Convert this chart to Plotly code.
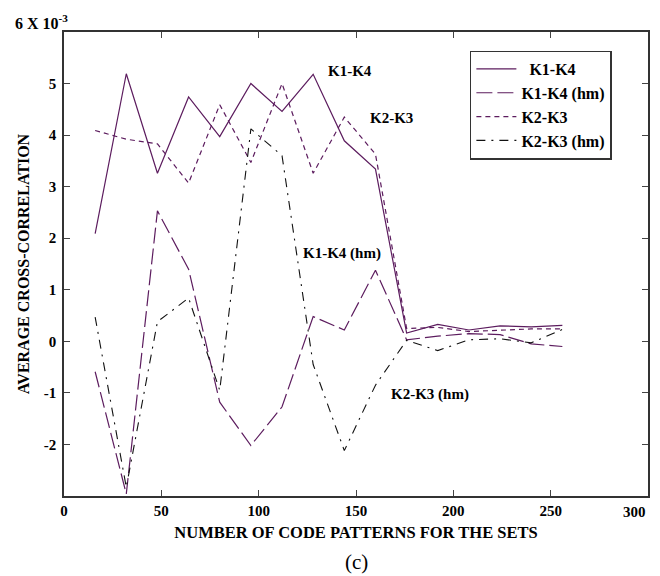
import plotly.graph_objects as go

# Number of code patterns
patterns = [16, 32, 48, 64, 80, 96, 112, 128, 144, 160, 176, 192, 208, 224, 240, 256]

# Average cross-correlation values (x 10^-3)
k1k4 = [2.09, 5.19, 3.26, 4.74, 3.97, 5.00, 4.46, 5.18, 3.89, 3.34, 0.16, 0.33, 0.22, 0.30, 0.28, 0.31]
k1k4_hm = [-0.59, -2.96, 2.53, 1.40, -1.18, -2.02, -1.27, 0.48, 0.22, 1.38, 0.03, 0.10, 0.15, 0.13, -0.05, -0.10]
k2k3 = [4.09, 3.92, 3.83, 3.07, 4.59, 3.47, 5.00, 3.26, 4.35, 3.63, 0.25, 0.27, 0.19, 0.22, 0.24, 0.24]
k2k3_hm = [0.47, -2.83, 0.38, 0.84, -0.95, 4.12, 3.60, -0.45, -2.12, -0.85, 0.02, -0.18, 0.03, 0.05, -0.03, 0.23]

ytick_vals = [-2, -1, 0, 1, 2, 3, 4, 5]
ytick_text = ["-2", "-1", "0", "1", "2", "3", "4", "5"]
xtick_vals = [0, 50, 100, 150, 200, 250, 300]
xtick_text = ["0", "50", "100", "150", "200", "250", ""]

PURPLE = "#5c1c5e"
BLACK = "#111111"
FONT = "Liberation Serif"

fig = go.Figure()
fig.add_trace(go.Scatter(x=patterns, y=k1k4, mode="lines", name="\u2002K1-K4",
                         line=dict(color=PURPLE, width=1.2, dash="solid")))
fig.add_trace(go.Scatter(x=patterns, y=k1k4_hm, mode="lines", name="K1-K4 (hm)",
                         line=dict(color=PURPLE, width=1.2, dash="16px,5px")))
fig.add_trace(go.Scatter(x=patterns, y=k2k3, mode="lines", name="K2-K3",
                         line=dict(color=PURPLE, width=1.2, dash="5px,4px")))
fig.add_trace(go.Scatter(x=patterns, y=k2k3_hm, mode="lines", name="K2-K3 (hm)",
                         line=dict(color=BLACK, width=1.1, dash="9px,6px,2px,6px")))

label_font = dict(family=FONT, size=15, color="black")
annotations = [
    dict(x=-0.087, y=1, xref="paper", yref="paper", xanchor="left", yanchor="bottom",
         yshift=-2, showarrow=False,
         text="<b>6 X 10<sup>-3</sup></b>", font=dict(family=FONT, size=16, color="black")),
    dict(x=300, y=0, xref="x", yref="paper", xanchor="right", yanchor="top",
         yshift=-6, showarrow=False, text="<b>300</b>",
         font=dict(family=FONT, size=15, color="black")),
    dict(x=147, y=5.25, text="<b>K1-K4</b>", showarrow=False, font=label_font),
    dict(x=168, y=4.33, text="<b>K2-K3</b>", showarrow=False, font=label_font),
    dict(x=143, y=1.70, text="<b>K1-K4 (hm)</b>", showarrow=False, font=label_font),
    dict(x=188, y=-1.04, text="<b>K2-K3 (hm)</b>", showarrow=False, font=label_font),
    dict(x=0.5, y=-0.142, xref="paper", yref="paper", xanchor="center", yanchor="middle",
         showarrow=False, text="(c)", font=dict(family=FONT, size=21, color="black")),
]

fig.update_layout(
    width=652, height=568,
    margin=dict(l=56, r=10, t=24, b=80),
    paper_bgcolor="white", plot_bgcolor="white",
    font=dict(family=FONT, size=15, color="black"),
    showlegend=True,
    legend=dict(x=0.695, y=0.96, xanchor="left", yanchor="top",
                bgcolor="white", bordercolor="#333333", borderwidth=1.5,
                font=dict(family=FONT, size=16, color="black", weight="bold"),
                tracegroupgap=0, itemwidth=40),
    annotations=annotations,
    xaxis=dict(range=[0, 300], tickvals=xtick_vals, ticktext=xtick_text,
               ticks="inside", ticklen=6,
               mirror="ticks", showline=True, linecolor="#333333", linewidth=1.5,
               showgrid=False, zeroline=False,
               tickfont=dict(family=FONT, size=15, weight="bold"),
               title=dict(text="<b>NUMBER OF CODE PATTERNS FOR THE SETS</b>",
                          font=dict(family=FONT, size=16.5), standoff=9)),
    yaxis=dict(range=[-3, 6], tickvals=ytick_vals, ticktext=ytick_text,
               ticks="inside", ticklen=6, ticklabelstandoff=3,
               mirror="ticks", showline=True, linecolor="#333333", linewidth=1.5,
               showgrid=False, zeroline=False,
               tickfont=dict(family=FONT, size=15, weight="bold"),
               title=dict(text="<b>AVERAGE CROSS-CORRELATION</b>",
                          font=dict(family=FONT, size=16), standoff=10)),
)

fig.write_html("out.html")
